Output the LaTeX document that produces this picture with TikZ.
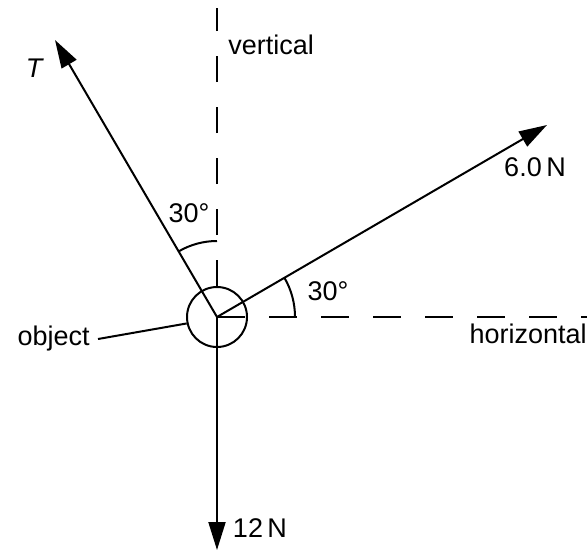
\documentclass[tikz,border=0pt]{standalone}
\usepackage{fontspec}
\setmainfont{Liberation Sans}
\usetikzlibrary{arrows.meta}

\tikzset{
  force/.style={line width=1pt, -{Triangle[length=14pt,width=8.5pt]}},
  guide/.style={line width=1pt},
  lbl/.style={font=\fontsize{13.5}{16}\selectfont, inner sep=0pt},
}

\begin{document}
\begin{tikzpicture}[x=0.5pt, y=-0.5pt]
\useasboundingbox (0,0) rectangle (587,552);

% the object and the force tips
\coordinate (O) at (217,317);
\node[circle, draw, line width=1pt, minimum size=30pt, inner sep=0pt] (obj) at (O) {};
\coordinate (Ttip) at (55,40);
\coordinate (Ftip) at (547,125);
\coordinate (Wtip) at (217,550);
\coordinate (vtop) at (217,8);
\coordinate (hend) at (587,317);

% reference lines
\draw[guide, dash pattern=on 13pt off 12.5pt] (obj.north) -- (vtop);
\draw[guide, dash pattern=on 14pt off 12pt] (O) -- (hend);

% forces
\draw[force] (O) -- (Ttip);
\draw[force] (O) -- (Ftip);
\draw[force] (O) -- (Wtip);

% angles
\draw[guide] (O) ++(90:38pt) arc[start angle=90, end angle=120, radius=38pt];
\draw[guide] (O) ++(0:39pt) arc[start angle=0, end angle=30, radius=39pt];

% labels
\node[lbl] (Tlab) at (35,68) {\textit{T}};
\node[lbl, anchor=west] (vlab) at (228,45) {vertical};
\node[lbl] (Flab) at (535,167) {6.0\,N};
\node[lbl] (a1) at (189,213) {30°};
\node[lbl] (a2) at (328,291) {30°};
\node[lbl, anchor=east] (hlab) at (587,334) {horizontal};
\node[lbl] (Wlab) at (260,528) {12\,N};
\node[lbl, anchor=east, inner xsep=4pt] (olab) at (98,339) {object};
\draw[guide] (olab.east) -- (obj.192);

\end{tikzpicture}
\end{document}
